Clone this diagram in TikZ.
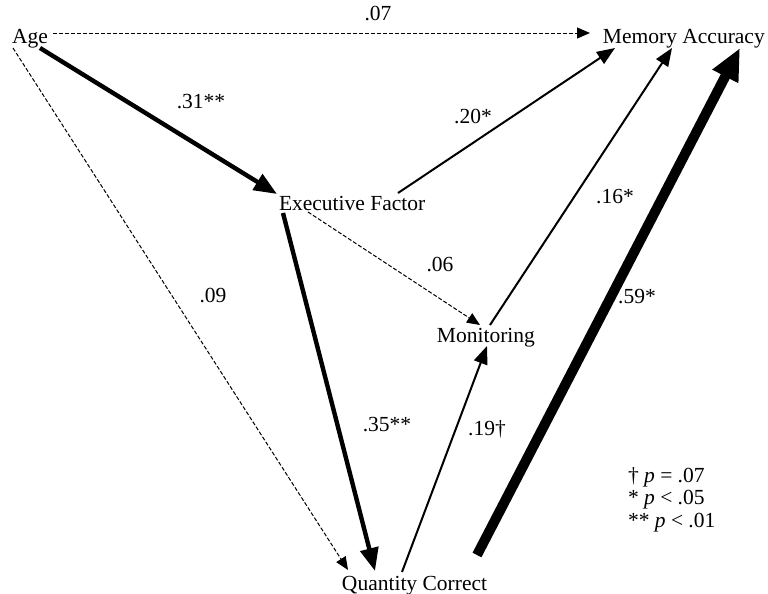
\documentclass[tikz,border=0pt]{standalone}
\usepackage{fontspec}
\setmainfont{Liberation Serif}
\usetikzlibrary{arrows.meta,calc}
\tikzset{
  varnode/.style={inner sep=0pt,outer sep=0pt,anchor=base west,
    font=\fontsize{10.75}{13}\selectfont},
  coefnode/.style={inner sep=0pt,font=\fontsize{10.75}{13}\selectfont},
  notpath/.style={-{Triangle[length=6.5pt,width=5.5pt]},line width=0.5pt,
    dash pattern=on 2pt off 1pt},
  sigpath/.style={-{Triangle[length=9pt,width=7pt]},line width=1pt},
  strongpath/.style={-{Triangle[length=11.5pt,width=9pt]},line width=2.2pt},
  hugepath/.style={-{Triangle[length=16pt,width=13.5pt]},line width=5pt}
}
\begin{document}
\begin{tikzpicture}[x=0.5pt,y=-0.5pt]
  \useasboundingbox (0,0) rectangle (768,594);
  % variables
  \node[varnode] (age) at (12,43) {Age};
  \node[varnode] (mem) at (603,43) {Memory Accuracy};
  \node[varnode] (exec) at (279,210) {Executive Factor};
  \node[varnode] (mon) at (437,343) {Monitoring};
  \node[varnode] (quant) at (342,590) {Quantity Correct};
  % paths
  \draw[notpath] ($(age.base east)+(5,-10)$) -- ($(mem.base west)+(-13,-10)$);
  \draw[strongpath] ($(age.base west)+(28,5)$) -- ($(exec.base west)+(-2,-16)$);
  \draw[notpath] ($(age.base west)+(1,5)$) -- ($(quant.base west)+(6,-20)$);
  \draw[sigpath] ($(exec.base west)+(119,-17)$) -- ($(mem.base west)+(12,5)$);
  \draw[notpath] ($(exec.base west)+(29,2)$) -- ($(mon.base west)+(43,-18)$);
  \draw[strongpath] ($(exec.base west)+(4,3)$) -- ($(quant.base west)+(33,-19)$);
  \draw[sigpath] ($(mon.base west)+(53,-18)$) -- ($(mem.base west)+(69,5)$);
  \draw[sigpath] ($(quant.base west)+(60,-18)$) -- ($(mon.base west)+(50,3)$);
  \draw[hugepath] ($(quant.base west)+(135,-35)$) -- ($(mem.base west)+(137,5)$);
  % coefficients
  \node[coefnode] (c07) at (378,14) {.07};
  \node[coefnode] (c31) at (201,102) {.31**};
  \node[coefnode] (c20) at (473,117) {.20*};
  \node[coefnode] (c09) at (213,296) {.09};
  \node[coefnode] (c06) at (440,265) {.06};
  \node[coefnode] (c16) at (615,197) {.16*};
  \node[coefnode] (c59) at (637,297) {.59*};
  \node[coefnode] (c35) at (387,425) {.35**};
  \node[coefnode] (c19) at (487,429) {.19†};
  % legend
  \node[varnode] (leg1) at (628,482) {† \textit{p} = .07};
  \node[varnode] (leg2) at (628,504) {* \textit{p} < .05};
  \node[varnode] (leg3) at (628,527) {** \textit{p} < .01};
\end{tikzpicture}
\end{document}
